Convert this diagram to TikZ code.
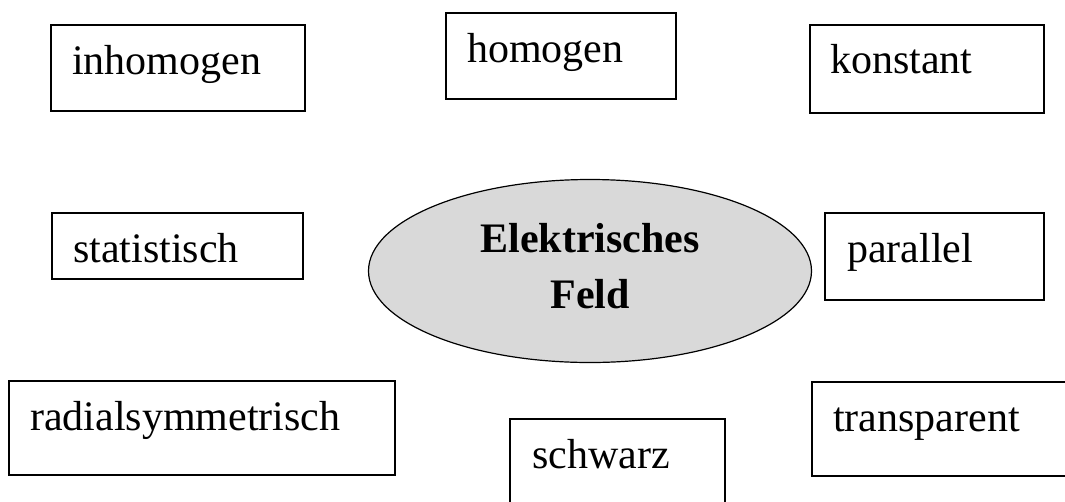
\documentclass[tikz,border=0pt]{standalone}
\usepackage{fontspec}
\setmainfont{Liberation Serif}
\usetikzlibrary{shapes.geometric}
\begin{document}
\begin{tikzpicture}[x=1pt,y=-1pt,
  box/.style={draw=black,line width=1.6pt,rectangle,inner sep=0pt,outer sep=0pt,anchor=north west},
  lbl/.style={anchor=base west,inner sep=0pt,font=\fontsize{42}{50}\selectfont},
  blbl/.style={anchor=base,inner sep=0pt,font=\fontsize{42}{50}\selectfont\bfseries}]
\useasboundingbox (0,0) rectangle (1065,501);
\clip (0,0) rectangle (1065,501);
% top row
\node[box,minimum width=254,minimum height=86] (inh) at (51,25) {};
\node[lbl] (inhT) at (72,74) {inhomogen};
\node[box,minimum width=230,minimum height=86] (hom) at (446,13) {};
\node[lbl] (homT) at (467,62) {homogen};
\node[box,minimum width=234,minimum height=88] (kon) at (810,25) {};
\node[lbl] (konT) at (830,73) {konstant};
% middle row
\node[box,minimum width=251,minimum height=66] (sta) at (52,213) {};
\node[lbl] (staT) at (73,262) {statistisch};
\node[ellipse,draw=black,line width=1.2pt,fill={rgb,255:red,217;green,217;blue,217},minimum width=443,minimum height=183,inner sep=0pt] (ef) at (590,271) {};
\node[blbl] (efT1) at (590,252) {Elektrisches};
\node[blbl] (efT2) at (590,308) {Feld};
\node[box,minimum width=219,minimum height=87] (par) at (825,213) {};
\node[lbl] (parT) at (847,262) {parallel};
% bottom row
\node[box,minimum width=386,minimum height=94] (rad) at (9,381) {};
\node[lbl] (radT) at (30,430) {radialsymmetrisch};
\node[box,minimum width=215,minimum height=100] (sch) at (510,419) {};
\node[lbl] (schT) at (532,468) {schwarz};
\node[box,minimum width=280,minimum height=94] (tra) at (812,382) {};
\node[lbl] (traT) at (833,431) {transparent};
\end{tikzpicture}
\end{document}
